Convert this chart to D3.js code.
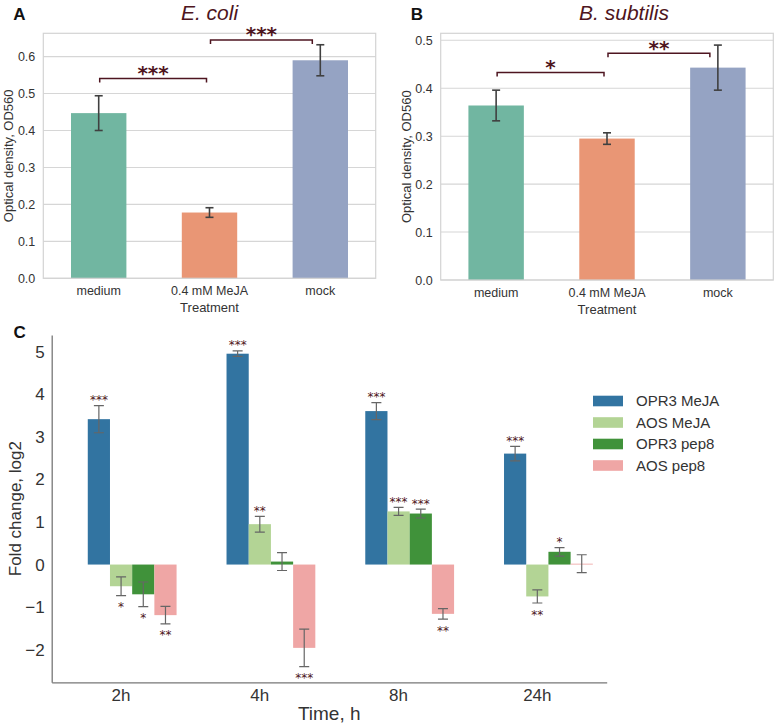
<!DOCTYPE html>
<html>
<head>
<meta charset="utf-8">
<script src="https://cdn.jsdelivr.net/npm/d3@7"></script>
<style>
  html, body { margin: 0; padding: 0; background: #fff; }
  svg { display: block; font-family: "Liberation Sans", Arial, sans-serif; }
</style>
</head>
<body>
<svg id="chart" width="778" height="725"></svg>
<script>
// data -------------------------------------------------------------
const treatments = ['medium', '0.4 mM MeJA', 'mock'];
const ecoliValues = [0.447, 0.178, 0.590];
const ecoliErrors = [0.047, 0.013, 0.042];
const subtilisValues = [0.364, 0.295, 0.443];
const subtilisErrors = [0.032, 0.012, 0.047];
const ecoliTicks = [0, 0.1, 0.2, 0.3, 0.4, 0.5, 0.6];
const subtilisTicks = [0, 0.1, 0.2, 0.3, 0.4, 0.5];
const ecoliBrackets = [
    { from: 'medium', to: '0.4 mM MeJA', level: 0.541, label: '***' },
    { from: '0.4 mM MeJA', to: 'mock', level: 0.645, label: '***' }
];
const subtilisBrackets = [
    { from: 'medium', to: '0.4 mM MeJA', level: 0.433, label: '*' },
    { from: '0.4 mM MeJA', to: 'mock', level: 0.473, label: '**' }
];

const times = ['2h', '4h', '8h', '24h'];
const seriesNames = ['OPR3 MeJA', 'AOS MeJA', 'OPR3 pep8', 'AOS pep8'];
const opr3MejaValues = [3.42, 4.96, 3.61, 2.61];
const opr3MejaErrors = [0.32, 0.065, 0.20, 0.17];
const opr3MejaSig = ['***', '***', '***', '***'];
const aosMejaValues = [-0.51, 0.95, 1.25, -0.75];
const aosMejaErrors = [0.22, 0.185, 0.095, 0.155];
const aosMejaSig = ['*', '**', '***', '**'];
const opr3Pep8Values = [-0.70, 0.07, 1.20, 0.30];
const opr3Pep8Errors = [0.29, 0.21, 0.105, 0.10];
const opr3Pep8Sig = ['*', '', '***', '*'];
const aosPep8Values = [-1.19, -1.96, -1.16, 0.02];
const aosPep8Errors = [0.205, 0.44, 0.125, 0.21];
const aosPep8Sig = ['**', '***', '**', ''];
const foldTicks = [-2, -1, 0, 1, 2, 3, 4, 5];

const set2 = ['#71b6a1', '#e99675', '#95a3c3'];
const paired = ['#3274a1', '#b3d495', '#40923a', '#efa6a5'];
const maroon = '#4e1520';

const svg = d3.select('#chart');

// panels A and B
function drawTreatmentPanel(opts) {
    const { left, right, top, bottom, values, errors, ticks, ymax, brackets, title, titleDx, letter } = opts;
    const g = svg.append('g');

    const x = d3.scaleBand().domain(treatments).range([left, right]);
    const y = d3.scaleLinear().domain([0, ymax]).range([bottom, top]);

    // grid
    g.selectAll('.grid')
        .data(ticks)
        .enter()
        .append('line')
        .attr('x1', left).attr('x2', right)
        .attr('y1', d => y(d)).attr('y2', d => y(d))
        .attr('stroke', '#d6d6d6').attr('stroke-width', 1.1);

    // bars
    g.selectAll('.bar')
        .data(values)
        .enter()
        .append('rect')
        .attr('x', (d, i) => x(treatments[i]) + x.bandwidth() * 0.25)
        .attr('width', x.bandwidth() * 0.5)
        .attr('y', d => y(d))
        .attr('height', d => bottom - y(d))
        .attr('fill', (d, i) => set2[i]);

    // frame
    g.append('rect')
        .attr('x', left).attr('y', top)
        .attr('width', right - left).attr('height', bottom - top)
        .attr('fill', 'none').attr('stroke', '#d3d3d3').attr('stroke-width', 1.2);

    // error bars
    const eb = g.selectAll('.err').data(values).enter().append('g');
    const cx = i => x(treatments[i]) + x.bandwidth() / 2;
    eb.append('line')
        .attr('x1', (d, i) => cx(i)).attr('x2', (d, i) => cx(i))
        .attr('y1', (d, i) => y(d + errors[i])).attr('y2', (d, i) => y(d - errors[i]));
    eb.append('line')
        .attr('x1', (d, i) => cx(i) - 4).attr('x2', (d, i) => cx(i) + 4)
        .attr('y1', (d, i) => y(d + errors[i])).attr('y2', (d, i) => y(d + errors[i]));
    eb.append('line')
        .attr('x1', (d, i) => cx(i) - 4).attr('x2', (d, i) => cx(i) + 4)
        .attr('y1', (d, i) => y(d - errors[i])).attr('y2', (d, i) => y(d - errors[i]));
    eb.selectAll('line').attr('stroke', '#404040').attr('stroke-width', 1.6);

    // axes
    const ya = g.append('g')
        .attr('transform', `translate(${left},0)`)
        .call(d3.axisLeft(y).tickValues(ticks).tickFormat(d3.format('.1f')).tickSize(0).tickPadding(8));
    ya.select('.domain').remove();
    ya.selectAll('text').attr('font-size', 12.5).attr('fill', '#333').attr('font-family', 'Liberation Sans, Arial, sans-serif');

    const xa = g.append('g')
        .attr('transform', `translate(0,${bottom})`)
        .call(d3.axisBottom(x).tickSize(0).tickPadding(8));
    xa.select('.domain').remove();
    xa.selectAll('text').attr('font-size', 12.5).attr('fill', '#333').attr('font-family', 'Liberation Sans, Arial, sans-serif');

    g.append('text')
        .attr('x', (left + right) / 2).attr('y', bottom + 34)
        .attr('text-anchor', 'middle').attr('font-size', 13).attr('fill', '#333')
        .text('Treatment');

    g.append('text')
        .attr('transform', `translate(${left - 30},${(top + bottom) / 2}) rotate(-90)`)
        .attr('text-anchor', 'middle').attr('font-size', 13).attr('fill', '#333')
        .text('Optical density, OD560');

    // significance brackets
    brackets.forEach((b, bi) => {
        const x1 = x(b.from) + x.bandwidth() / 2 + 1;
        const x2 = x(b.to) + x.bandwidth() / 2 - (bi === 1 ? 8 : 3);
        const yb = y(b.level);
        g.append('path')
            .attr('d', `M${x1},${yb + 4}V${yb}H${x2}V${yb + 4}`)
            .attr('fill', 'none').attr('stroke', maroon).attr('stroke-width', 1.5);
        g.append('text')
            .attr('x', (x1 + x2) / 2).attr('y', yb + 1.5)
            .attr('text-anchor', 'middle')
            .attr('font-family', 'DejaVu Sans, sans-serif').attr('font-weight', 'bold')
            .attr('font-size', 20).attr('fill', maroon)
            .text(b.label);
    });

    // title and panel letter
    svg.append('text')
        .attr('x', (left + right) / 2 + titleDx).attr('y', 20)
        .attr('text-anchor', 'middle').attr('font-style', 'italic')
        .attr('font-size', 21).attr('fill', maroon)
        .text(title);
    svg.append('text')
        .attr('x', left - 30).attr('y', 19.5)
        .attr('font-weight', 'bold').attr('font-size', 17).attr('fill', '#111')
        .text(letter);
}

drawTreatmentPanel({
    left: 43.3, right: 375.7, top: 33.3, bottom: 278.3,
    values: ecoliValues, errors: ecoliErrors, ticks: ecoliTicks, ymax: 0.663,
    brackets: ecoliBrackets, title: 'E. coli', titleDx: 0, letter: 'A'
});
drawTreatmentPanel({
    left: 440.7, right: 773.3, top: 33.3, bottom: 280,
    values: subtilisValues, errors: subtilisErrors, ticks: subtilisTicks, ymax: 0.5146,
    brackets: subtilisBrackets, title: 'B. subtilis', titleDx: 17, letter: 'B'
});

// panel C
const cLeft = 51.7, cRight = 606.7, cTop = 335, cBottom = 682.3;
const series = [
    { name: seriesNames[0], values: opr3MejaValues, errors: opr3MejaErrors, sig: opr3MejaSig },
    { name: seriesNames[1], values: aosMejaValues, errors: aosMejaErrors, sig: aosMejaSig },
    { name: seriesNames[2], values: opr3Pep8Values, errors: opr3Pep8Errors, sig: opr3Pep8Sig },
    { name: seriesNames[3], values: aosPep8Values, errors: aosPep8Errors, sig: aosPep8Sig }
];

const xc = d3.scaleBand().domain(times).range([cLeft, cRight]);
const yc = d3.scaleLinear().domain([-2.77, 5.4]).range([cBottom, cTop]);
const bw = xc.bandwidth() * 0.16;
const gc = svg.append('g');

const barX = (si, t) => xc(t) + xc.bandwidth() / 2 + (si - 1) * bw - bw / 2;

series.forEach((s, si) => {
    const sg = gc.append('g');
    sg.selectAll('rect')
        .data(s.values)
        .enter()
        .append('rect')
        .attr('x', (d, i) => barX(si, times[i]))
        .attr('width', bw)
        .attr('y', d => yc(Math.max(0, d)))
        .attr('height', d => Math.abs(yc(d) - yc(0)))
        .attr('fill', paired[si]);
});

series.forEach((s, si) => {
    const eg = gc.append('g');
    s.values.forEach((v, i) => {
        const cx = barX(si, times[i]) + bw / 2;
        const hi = yc(v + s.errors[i]), lo = yc(v - s.errors[i]);
        eg.append('path')
            .attr('d', `M${cx - 5},${hi}H${cx + 5}M${cx},${hi}V${lo}M${cx - 5},${lo}H${cx + 5}`)
            .attr('fill', 'none').attr('stroke', '#666').attr('stroke-width', 1.2);
        if (s.sig[i]) {
            eg.append('text')
                .attr('x', cx)
                .attr('y', v >= 0 ? hi - 1.5 : lo + 15.5)
                .attr('text-anchor', 'middle')
                .attr('font-family', 'DejaVu Sans, sans-serif')
                .attr('font-size', 12).attr('fill', maroon)
                .text(s.sig[i]);
        }
    });
});

const yca = gc.append('g')
    .attr('transform', `translate(${cLeft},0)`)
    .call(d3.axisLeft(yc).tickValues(foldTicks).tickSize(0).tickSizeOuter(0).tickPadding(7));
yca.select('.domain').attr('stroke', '#777').attr('stroke-width', 1.3);
yca.selectAll('text').attr('font-size', 17).attr('fill', '#333').attr('font-family', 'Liberation Sans, Arial, sans-serif');

const xca = gc.append('g')
    .attr('transform', `translate(0,${cBottom})`)
    .call(d3.axisBottom(xc).tickSize(0).tickSizeOuter(0).tickPadding(7));
xca.select('.domain').attr('stroke', '#777').attr('stroke-width', 1.3);
xca.selectAll('text').attr('font-size', 17).attr('fill', '#333').attr('font-family', 'Liberation Sans, Arial, sans-serif');

gc.append('text')
    .attr('x', (cLeft + cRight) / 2).attr('y', 720)
    .attr('text-anchor', 'middle').attr('font-size', 19).attr('fill', '#333')
    .text('Time, h');

gc.append('text')
    .attr('transform', `translate(21,${(cTop + cBottom) / 2}) rotate(-90)`)
    .attr('text-anchor', 'middle').attr('font-size', 17).attr('fill', '#333')
    .text('Fold change, log2');

svg.append('text')
    .attr('x', 13.5).attr('y', 338)
    .attr('font-weight', 'bold').attr('font-size', 17).attr('fill', '#111')
    .text('C');

// legend
const legend = gc.append('g').attr('transform', 'translate(593,401)');
seriesNames.forEach((name, i) => {
    legend.append('rect')
        .attr('x', 0).attr('y', i * 21.5 - 5.3)
        .attr('width', 30).attr('height', 10.6)
        .attr('fill', paired[i]);
    legend.append('text')
        .attr('x', 43).attr('y', i * 21.5 + 5.3)
        .attr('font-size', 15).attr('fill', '#333')
        .text(name);
});
</script>
</body>
</html>
